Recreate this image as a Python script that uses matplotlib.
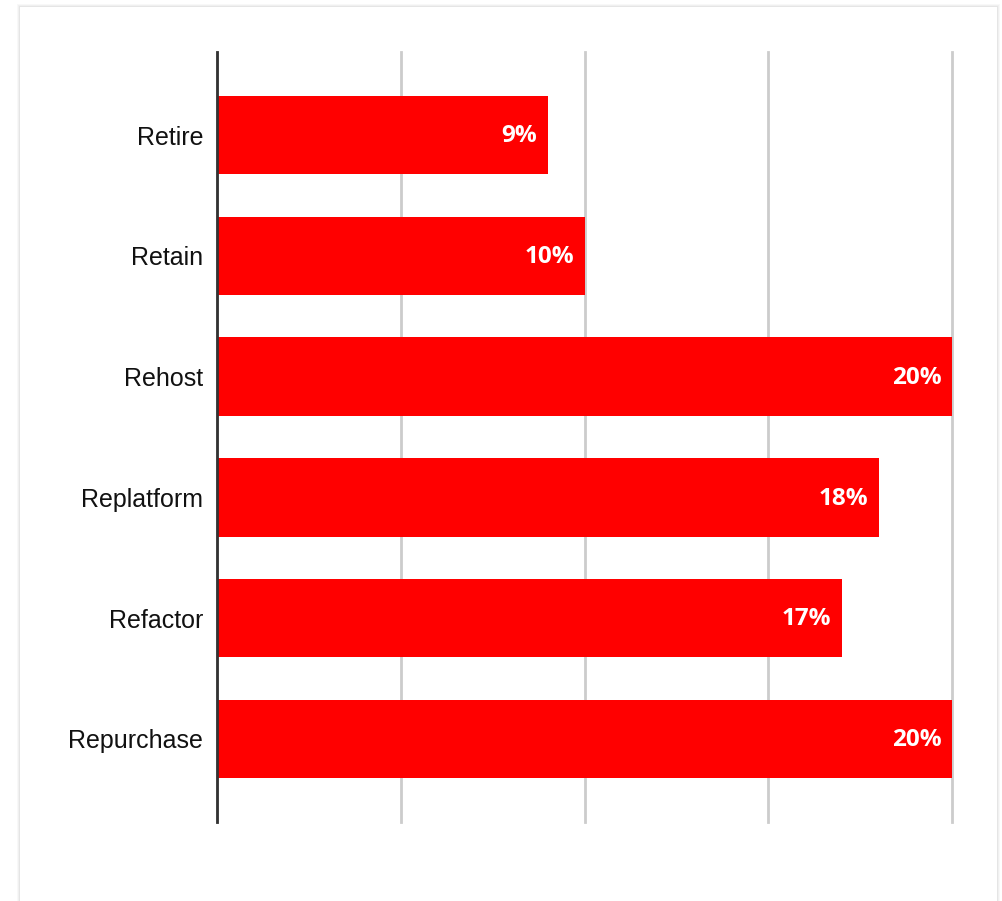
import numpy as np
import matplotlib.pyplot as plt
from matplotlib.patches import Rectangle

categories = ["Retire", "Retain", "Rehost", "Replatform", "Refactor", "Repurchase"]
values = [9, 10, 20, 18, 17, 20]
xticks = [0, 5, 10, 15, 20]

W, H = 1002, 901
fig = plt.figure(figsize=(W / 100, H / 100), dpi=100)
fig.patch.set_facecolor("white")

# card with a soft shadow (kept below the axes)
for i, a in enumerate([0.05, 0.07, 0.1]):
    d = 3 - i
    fig.patches.append(Rectangle(((20 - d) / W, 0), (977 + 2 * d) / W, (894 + d) / H,
                                 transform=fig.transFigure, facecolor="#888888",
                                 edgecolor="none", alpha=a, zorder=-3))
fig.patches.append(Rectangle((20 / W, 0), 977 / W, 894 / H, transform=fig.transFigure,
                             facecolor="white", edgecolor="none", zorder=-2))

ax = fig.add_axes([217 / W, 1 - 822 / H, 735 / W, 770 / H])
ax.set_facecolor("none")
y = np.arange(len(categories))
ax.barh(y, values, height=0.65, color="#ff0000", zorder=3)

for yi, v in zip(y, values):
    ax.text(v - 0.28, yi + 0.01, f"{v}%", ha="right", va="center", color="white",
            fontsize=17.5, fontweight="bold", family="Open Sans", zorder=4)

ax.set_xlim(0, 20)
ax.set_ylim(len(categories) - 1 + 0.69, -0.69)
ax.set_xticks(xticks)
ax.set_xticklabels([])
ax.tick_params(axis="x", length=0)
ax.tick_params(axis="y", length=0, pad=10)
ax.set_yticks(y)
ax.set_yticklabels(categories, fontsize=18, family="Liberation Sans", color="#111111")
ax.grid(axis="x", color="#cccccc", linewidth=2, zorder=1)
for line in ax.get_xgridlines():
    line.set_clip_on(False)
for s in ["top", "right", "bottom"]:
    ax.spines[s].set_visible(False)
ax.spines["left"].set_color("#333333")
ax.spines["left"].set_linewidth(2)
ax.spines["left"].set_zorder(5)

fig.savefig("out.png", dpi=100)
